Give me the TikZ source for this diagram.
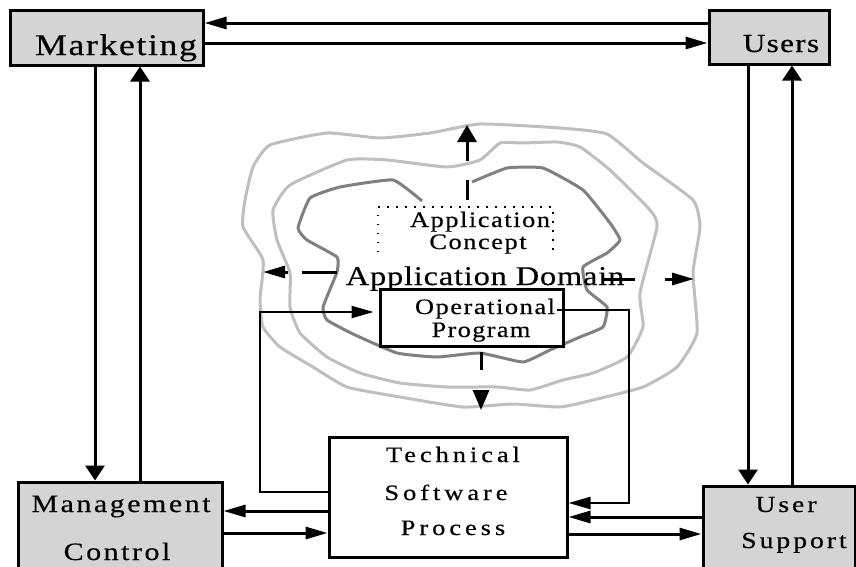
\documentclass[tikz,border=0pt]{standalone}
\usepackage{fontspec}
\setmainfont{Liberation Serif}
\usetikzlibrary{arrows.meta}
\newcommand{\lblfont}[2]{\fontsize{#1}{#1}\selectfont\addfontfeatures{FakeStretch=1.2,FakeBold=0.4,LetterSpace=#2}}

\begin{document}
\begin{tikzpicture}[x=1pt,y=-1pt,
  shbox/.style={draw,line width=3pt,fill=black!17,inner sep=0pt},
  wbox/.style={draw,line width=3pt,fill=white,inner sep=0pt},
  lbl/.style={anchor=base,inner sep=0pt},
  conn/.style={line width=3pt},
  harr/.style={-{Triangle[length=22pt,width=12pt]}},
  varr/.style={-{Triangle[length=15pt,width=19pt]}},
  ring/.style={line width=3pt,black!25,line join=round},
  core/.style={line width=3pt,black!50,line join=round}]
  \useasboundingbox (0,0) rectangle (856,566);

  % application domain contours
  \draw[ring] plot[smooth cycle,tension=0.3] coordinates {(327,133) (380,138) (430,133) (480,124) (560,128) (607,134) (643,163) (693,200) (700,227) (693,273) (697,333) (677,367) (643,387) (593,400) (560,407) (513,404) (463,407) (400,397) (347,387) (313,367) (280,347) (263,327) (260,300) (263,260) (243,227) (245,200) (253,167) (270,145)};
  \draw[ring] plot[smooth cycle,tension=0.3] coordinates {(347,160) (387,160) (447,167) (480,160) (500,143) (523,143) (557,142) (580,147) (610,170) (650,210) (657,227) (640,293) (643,327) (627,357) (593,373) (563,380) (530,390) (497,387) (447,387) (400,383) (360,373) (327,357) (300,333) (290,307) (290,273) (277,240) (273,210) (290,185)};
  \draw[core] plot[smooth,tension=0.25] coordinates {(422,201) (393,180) (340,187) (310,198) (298,228) (307,240) (337,257) (337,272) (323,307) (327,320) (353,334) (397,353) (437,357) (480,353) (523,362) (550,350) (580,337) (603,327) (607,307) (587,290) (583,267) (607,253) (620,240) (610,223) (583,190) (543,168) (507,168) (472,182)};

  % boxes
  \node[shbox,minimum width=193pt,minimum height=55pt] (mkt) at (106.5,37.5) {};
  \node[shbox,minimum width=120pt,minimum height=54pt] (usr) at (769,37) {};
  \node[shbox,minimum width=204pt,minimum height=98pt] (mgt) at (120,531) {};
  \node[shbox,minimum width=152pt,minimum height=94pt] (usp) at (779,533) {};
  \node[wbox,minimum width=238pt,minimum height=120pt] (tsp) at (448,497) {};
  \node[wbox,minimum width=183pt,minimum height=57pt] (opr) at (471.5,317.5) {};
  \draw[line width=1.2pt,dash pattern=on 1.5pt off 7.5pt] (378,252) -- (378,207) -- (553,207) -- (553,252);

  % labels
  \node[lbl,font=\lblfont{30}{5}] (mkt-t) at (116,55) {Marketing};
  \node[lbl,font=\lblfont{26}{5}] (usr-t) at (781,52) {Users};
  \node[lbl,font=\lblfont{25}{10}] (mgt-t1) at (121,512) {Management};
  \node[lbl,font=\lblfont{25}{10}] (mgt-t2) at (117,560) {Control};
  \node[lbl,font=\lblfont{23}{13}] (usp-t1) at (786,512) {User};
  \node[lbl,font=\lblfont{23}{13}] (usp-t2) at (794,548) {Support};
  \node[lbl,font=\lblfont{22}{18}] (tsp-t1) at (453,462) {Technical};
  \node[lbl,font=\lblfont{22}{18}] (tsp-t2) at (446,500) {Software};
  \node[lbl,font=\lblfont{22}{18}] (tsp-t3) at (453,535) {Process};
  \node[lbl,font=\lblfont{22}{7}] (concept) at (480,227) {Application};
  \node[lbl,font=\lblfont{22}{7}] (concept-2) at (478,249) {Concept};
  \node[lbl,font=\lblfont{27}{3}] (domain) at (485,285) {Application Domain};
  \node[lbl,font=\lblfont{22}{7}] (opr-t1) at (485,314) {Operational};
  \node[lbl,font=\lblfont{22}{6}] (opr-t2) at (481,337) {Program};

  % outward dashed arrows
  \coordinate (up-s) at (467,200);  \coordinate (up-e) at (467,125);
  \coordinate (lf-s) at (337,272);  \coordinate (lf-e) at (263,272);
  \coordinate (rt-s) at (603,279);  \coordinate (rt-e) at (694,279);
  \coordinate (dn-s) at (481,352);  \coordinate (dn-e) at (481,410);
  \draw[conn,dash pattern=on 20pt off 19pt on 200pt,-{Triangle[length=17pt,width=19pt]}] (up-s) -- (up-e);
  \draw[conn,dash pattern=on 35pt off 14pt on 200pt,harr] (lf-s) -- (lf-e);
  \draw[conn,dash pattern=on 32pt off 30pt on 200pt,harr] (rt-s) -- (rt-e);
  \draw[conn,dash pattern=on 18pt off 20pt on 200pt,-{Triangle[length=20pt,width=16pt]}] (dn-s) -- (dn-e);

  % connectors
  \draw[conn,harr] (usr.west |- 0,23) -- (mkt.east |- 0,23);
  \draw[conn,harr] (mkt.east |- 0,43) -- (usr.west |- 0,43);
  \draw[conn,varr] (mkt.south -| 95,0) -- (mgt.north -| 95,0);
  \draw[conn,varr] (mgt.north -| 140,0) -- (mkt.south -| 140,0);
  \draw[conn,varr] (usr.south -| 748,0) -- (usp.north -| 748,0);
  \draw[conn,varr] (usp.north -| 792,0) -- (usr.south -| 792,0);
  \draw[conn,harr] (tsp.west |- 0,511) -- (mgt.east |- 0,511);
  \draw[conn,harr] (mgt.east |- 0,533) -- (tsp.west |- 0,533);
  \draw[conn,harr] (usp.west |- 0,517) -- (tsp.east |- 0,517);
  \draw[conn,harr] (tsp.east |- 0,534) -- (usp.west |- 0,534);
  \draw[line width=2.2pt,harr,shorten >=5pt] (tsp.west |- 0,492) -| (260,312) -- (opr.west |- 0,312);
  \draw[line width=2.2pt,harr] ([xshift=-8pt]opr.east |- 0,310) -| (629,503) -- (tsp.east |- 0,503);
\end{tikzpicture}
\end{document}
